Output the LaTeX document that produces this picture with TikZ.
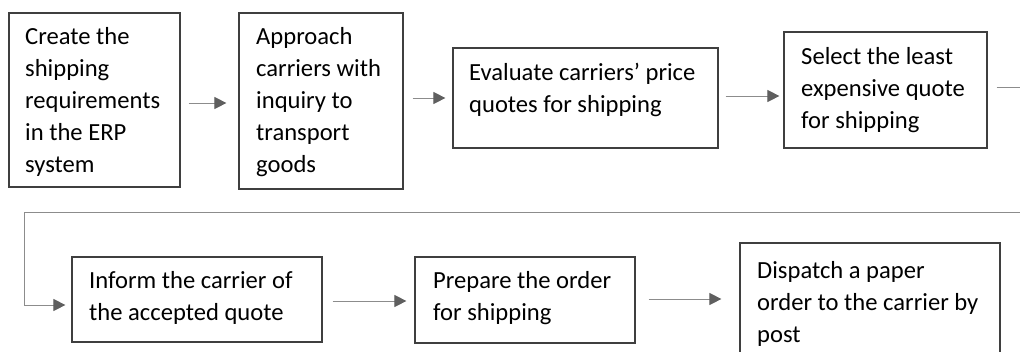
\documentclass[tikz,border=0pt]{standalone}
\usepackage{fontspec}
\setmainfont{Carlito}
\usetikzlibrary{arrows.meta}
\definecolor{boxline}{HTML}{3F3F3F}
\definecolor{arrline}{HTML}{8C8C8C}
\definecolor{arrhead}{HTML}{5F5F5F}
\begin{document}
\begin{tikzpicture}[x=1pt,y=-1pt,
  box/.style={draw=boxline,line width=1.2pt,inner sep=0pt,fill=white},
  txt/.style={anchor=north west,inner sep=0pt,align=left,text=black,
    font=\fontsize{24.6}{32}\selectfont},
  conn/.style={draw=arrline,line width=1pt,
    -{Triangle[length=12pt,width=12pt,color=arrhead,fill=arrhead]}},
  connline/.style={draw=arrline,line width=1pt}]
\clip (0,0) rectangle (1020,351);
\fill[white] (0,0) rectangle (1020,351);
% boxes
\node[box,minimum width=171pt,minimum height=174pt] (b1) at (94.5,100) {};
\node[box,minimum width=164pt,minimum height=176pt] (b2) at (321,101) {};
\node[box,minimum width=265pt,minimum height=100pt] (b3) at (585.5,98) {};
\node[box,minimum width=203pt,minimum height=116pt] (b4) at (885.5,90) {};
\node[box,minimum width=250pt,minimum height=85pt] (b5) at (197,299.5) {};
\node[box,minimum width=220pt,minimum height=86pt] (b6) at (525,300) {};
\node[box,minimum width=260pt,minimum height=132pt] (b7) at (870,309) {};
% texts
\node[txt] (t1) at (25,21.6) {\strut Create the\\\strut shipping\\\strut requirements\\\strut in the ERP\\\strut system};
\node[txt] (t2) at (256,21.6) {\strut Approach\\\strut carriers with\\\strut inquiry to\\\strut transport\\\strut goods};
\node[txt] (t3) at (469,57.6) {\strut Evaluate carriers’ price\\\strut quotes for shipping};
\node[txt] (t4) at (801,41.6) {\strut Select the least\\\strut expensive quote\\\strut for shipping};
\node[txt] (t5) at (89,265.6) {\strut Inform the carrier of\\\strut the accepted quote};
\node[txt] (t6) at (433,265.6) {\strut Prepare the order\\\strut for shipping};
\node[txt] (t7) at (757,255.6) {\strut Dispatch a paper\\\strut order to the carrier by\\\strut post};
% connectors
\draw[conn] ([shift={(8,3)}]b1.east) -- ([shift={(-12,2)}]b2.west);
\draw[conn] ([shift={(9,-3)}]b2.east) -- ([shift={(-7,0)}]b3.west);
\draw[conn] ([shift={(7,-2)}]b3.east) -- ([shift={(-4,6)}]b4.west);
\coordinate (c1) at (1040,87);
\coordinate (c2) at (1040,212);
\coordinate (c3) at (24,212);
\coordinate (c4) at (24,305);
\draw[connline] ([shift={(9,-3)}]b4.east) -- (c1) -- (c2) -- (c3) -- (c4);
\draw[conn] (c4) -- ([shift={(-6,5.5)}]b5.west);
\draw[conn] ([shift={(10,1.5)}]b5.east) -- ([shift={(-8,1)}]b6.west);
\draw[conn] ([shift={(13,-1)}]b6.east) -- ([shift={(-18,-10)}]b7.west);
\end{tikzpicture}
\end{document}
